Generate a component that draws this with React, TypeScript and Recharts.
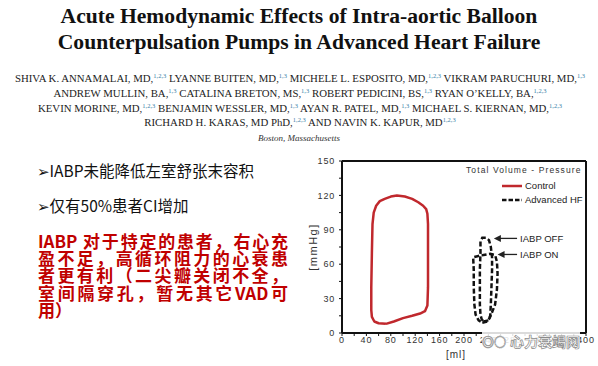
import { ScatterChart, Scatter, XAxis, YAxis, ReferenceLine, Label } from "recharts";

// PV loop, control (ml / mmHg)
const controlVolume = [72, 85, 100, 115, 128, 136, 140, 141, 141, 141, 140, 138, 133, 125, 115, 103, 90, 80, 70, 62, 56, 52, 50, 49, 48, 48, 49, 53, 60, 72];
const controlPressure = [8, 10, 13, 15, 17, 19, 24, 40, 70, 95, 104, 108, 111, 114, 117, 119, 120, 119, 117, 115, 111, 105, 95, 70, 40, 20, 14, 10, 8.5, 8];

// advanced HF, IABP off
const offVolume = [232, 240, 243, 244, 245, 246, 246, 244, 241, 236, 230, 227, 227, 226, 226, 226, 227, 229, 232];
const offPressure = [10, 11, 15, 25, 40, 55, 66, 75, 81, 83, 83, 80, 70, 55, 40, 25, 16, 12, 10];

// advanced HF, IABP on
const onVolume = [230, 238, 242, 246, 251, 254, 255, 254, 251, 243, 232, 222, 215, 216, 216, 217, 219, 224, 230];
const onPressure = [9, 10, 13, 18, 25, 38, 52, 62, 68, 69, 68, 67, 66, 55, 40, 25, 16, 11, 9];

const xTicks = [0, 20, 40, 60, 80, 100, 120, 140, 160, 180, 200, 220, 240, 260, 280, 300, 320, 340, 360, 380, 400];
const yTicks = [0, 15, 30, 45, 60, 75, 90, 105, 120, 135, 150];

const noteLabels = ["IABP OFF", "IABP ON"];
const noteTipVolume = [249, 255];
const notePressure = [82.5, 68.5];
const noteTextVolume = 292;

const legendNames = ["Control", "Advanced HF"];

const zip = (v: number[], p: number[]) => v.map((x, i) => ({ v: x, p: p[i] }));
const control = zip(controlVolume, controlPressure);
const iabpOff = zip(offVolume, offPressure);
const iabpOn = zip(onVolume, onPressure);
const tips = noteLabels.map((label, i) => ({ v: noteTipVolume[i], p: notePressure[i], label }));
const texts = noteLabels.map((label, i) => ({ v: noteTextVolume, p: notePressure[i], label }));

const RED = "#c0282d";
const sans = "'Liberation Sans', Arial, sans-serif";
const tickStyle = { fontSize: 9, fill: "#333", fontFamily: sans, letterSpacing: 0.8 };

const Nothing = () => <g />;

const ArrowHead = (props: any) => {
  const { cx, cy } = props;
  return <polygon points={`${cx},${cy} ${cx + 7},${cy - 3.5} ${cx + 7},${cy + 3.5}`} fill="#222" />;
};

const NoteText = (props: any) => {
  const { cx, cy, payload } = props;
  return (
    <text x={cx} y={cy} dy="0.35em" fontSize={9.5} fill="#222" fontFamily={sans}>
      {payload.label}
    </text>
  );
};

function PVChart() {
  return (
    <ScatterChart width={298} height={216} margin={{ top: 11, right: 12, bottom: 13, left: 0 }}>
      <XAxis
        type="number" dataKey="v" domain={[0, 400]} ticks={xTicks} interval={0}
        tickFormatter={(t: number) => (t % 40 === 0 ? String(t) : "")}
        tick={tickStyle} tickSize={3} tickMargin={1} height={20}
        axisLine={{ stroke: "#111", strokeWidth: 2 }} tickLine={{ stroke: "#111" }}
      >
        <Label value="[ml]" position="insideBottom" offset={-5} dx={-8} style={{ fontSize: 10, fill: "#333", fontFamily: sans, letterSpacing: 1 }} />
      </XAxis>
      <XAxis
        xAxisId="top" orientation="top" type="number" dataKey="v" domain={[0, 400]} ticks={xTicks} interval={0}
        mirror tickFormatter={() => ""} tickSize={3} height={1}
        axisLine={{ stroke: "#111", strokeWidth: 2 }} tickLine={{ stroke: "#111" }}
      />
      <YAxis
        type="number" dataKey="p" domain={[0, 150]} ticks={yTicks} interval={0}
        tickFormatter={(t: number) => (t % 30 === 0 ? String(t) : "")}
        tick={tickStyle} tickSize={3} tickMargin={4} width={42}
        axisLine={{ stroke: "#111", strokeWidth: 2 }} tickLine={{ stroke: "#111" }}
      >
        <Label value="[mmHg]" angle={-90} position="center" dx={-8} style={{ fontSize: 11, fill: "#333", fontFamily: sans, letterSpacing: 1.5 }} />
      </YAxis>
      <YAxis
        yAxisId="right" orientation="right" type="number" dataKey="p" domain={[0, 150]} ticks={yTicks} interval={0}
        mirror tickFormatter={() => ""} tickSize={3} width={1}
        axisLine={{ stroke: "#111", strokeWidth: 2 }} tickLine={{ stroke: "#111" }}
      />
      <Scatter name="Control" data={control} line={{ stroke: RED, strokeWidth: 2.5, strokeLinejoin: "round" }} shape={<Nothing />} isAnimationActive={false} />
      <Scatter name="IABP OFF" data={iabpOff} line={{ stroke: "#111", strokeWidth: 2.5, strokeDasharray: "5 2.5" }} shape={<Nothing />} isAnimationActive={false} />
      <Scatter name="IABP ON" data={iabpOn} line={{ stroke: "#111", strokeWidth: 2.5, strokeDasharray: "5 2.5" }} shape={<Nothing />} isAnimationActive={false} />
      {tips.map((t) => (
        <ReferenceLine key={t.label} segment={[{ x: t.v + 5, y: t.p }, { x: noteTextVolume - 5, y: t.p }]} stroke="#222" strokeWidth={1.3} />
      ))}
      <Scatter data={tips} shape={<ArrowHead />} isAnimationActive={false} />
      <Scatter data={texts} shape={<NoteText />} isAnimationActive={false} />
    </ScatterChart>
  );
}

const sup = { color: "#3a7fa8", fontSize: 6.5, position: "relative" as const, top: -4 };

const authors: [string, string][][] = [
  [["SHIVA K. ANNAMALAI, MD,", "1,2,3"], [" LYANNE BUITEN, MD,", "1,3"], [" MICHELE L. ESPOSITO, MD,", "1,2,3"], [" VIKRAM PARUCHURI, MD,", "1,3"]],
  [["ANDREW MULLIN, BA,", "1,3"], [" CATALINA BRETON, MS,", "1,3"], [" ROBERT PEDICINI, BS,", "1,3"], [" RYAN O\u2019KELLY, BA,", "1,2,3"]],
  [["KEVIN MORINE, MD,", "1,2,3"], [" BENJAMIN WESSLER, MD,", "1,3"], [" AYAN R. PATEL, MD,", "1,3"], [" MICHAEL S. KIERNAN, MD,", "1,2,3"]],
  [["RICHARD H. KARAS, MD PhD,", "1,2,3"], [" AND NAVIN K. KAPUR, MD", "1,2,3"]],
];

const redLines = ["IABP  对于特定的患者，右心充", "盈不足，高循环阻力的心衰患", "者更有利（二尖瓣关闭不全，", "室间隔穿孔，暂无其它VAD可", "用）"];

export default function App() {
  const serif = "'Liberation Serif', 'Times New Roman', serif";
  const cjk = "'Noto Sans CJK SC', 'Noto Sans', sans-serif";
  return (
    <div style={{ position: "absolute", left: 0, top: 0, width: 598, height: 366, background: "#fff", overflow: "hidden" }}>
      <div style={{ position: "absolute", top: 3, left: 0, width: 598, textAlign: "center", fontFamily: serif, fontWeight: 700, fontSize: 21.6, lineHeight: "26px", color: "#111" }}>
        Acute Hemodynamic Effects of Intra-aortic Balloon<br />Counterpulsation Pumps in Advanced Heart Failure
      </div>
      <div style={{ position: "absolute", top: 72, left: 0, width: 600, textAlign: "center", fontFamily: serif, fontSize: 10.8, lineHeight: "13.8px", color: "#222", whiteSpace: "nowrap" }}>
        {authors.map((line, i) => (
          <div key={i}>
            {line.map(([name, s], j) => (
              <span key={j}>{name}<span style={sup}>{s}</span></span>
            ))}
          </div>
        ))}
      </div>
      <div style={{ position: "absolute", top: 133, left: 0, width: 598, textAlign: "center", fontFamily: serif, fontStyle: "italic", fontSize: 9, color: "#333" }}>
        Boston, Massachusetts
      </div>
      <div style={{ position: "absolute", top: 160, left: 37, fontFamily: cjk, fontSize: 15.5, lineHeight: "20px", color: "#111", whiteSpace: "nowrap" }}>
        <span style={{ fontFamily: "'DejaVu Sans'", fontSize: 15 }}>➢</span>IABP未能降低左室舒张末容积
      </div>
      <div style={{ position: "absolute", top: 195, left: 37, fontFamily: cjk, fontSize: 15.5, lineHeight: "20px", color: "#111", whiteSpace: "nowrap" }}>
        <span style={{ fontFamily: "'DejaVu Sans'", fontSize: 15 }}>➢</span>仅有50%患者CI增加
      </div>
      <div style={{ position: "absolute", top: 232, left: 38, width: 250, fontFamily: cjk, fontWeight: 700, fontSize: 17, lineHeight: "17.2px", color: "#c00000" }}>
        {redLines.map((l, i) => (
          <div key={i} style={{ textAlign: "justify", textAlignLast: i < redLines.length - 1 ? "justify" : "left", whiteSpace: "nowrap" }}>{l}</div>
        ))}
      </div>
      <div style={{ position: "absolute", left: 300, top: 150 }}>
        <PVChart />
      </div>
      <div style={{ position: "absolute", left: 466, top: 165, fontFamily: sans, color: "#333" }}>
        <div style={{ fontSize: 8.5, letterSpacing: 1.1, lineHeight: "11px", whiteSpace: "nowrap" }}>Total Volume - Pressure</div>
        {legendNames.map((name, i) => (
          <div key={name} style={{ display: "flex", alignItems: "center", marginTop: i === 0 ? 4 : 3, marginLeft: 36, fontSize: 9.5, lineHeight: "11px", color: "#222", whiteSpace: "nowrap" }}>
            <svg width={20} height={6} style={{ marginRight: 3 }}>
              <line x1={0} y1={3} x2={20} y2={3} stroke={i === 0 ? RED : "#111"} strokeWidth={2.5} strokeDasharray={i === 0 ? undefined : "4.5 2"} />
            </svg>
            {name}
          </div>
        ))}
      </div>
      <div style={{ position: "absolute", left: 482, top: 332, height: 18, display: "flex", alignItems: "center", background: "rgba(255,255,255,0.85)", fontFamily: cjk, fontWeight: 700, fontSize: 14, color: "#fff", WebkitTextStroke: "0.7px #8a8a8a", whiteSpace: "nowrap" }}>
        <span style={{ fontSize: 12, marginRight: 4, WebkitTextStroke: "0.6px #999" }}>◎◌</span>心力衰竭网
      </div>
    </div>
  );
}
